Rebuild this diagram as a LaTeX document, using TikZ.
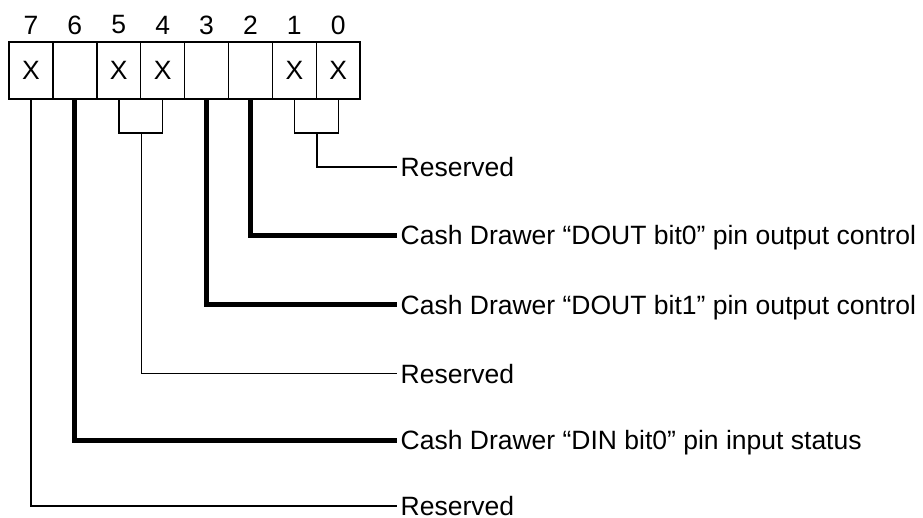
\documentclass[tikz,border=0pt]{standalone}
\usepackage{fontspec}
\setmainfont{Liberation Sans}

\begin{document}
\begin{tikzpicture}
[x=1pt,y=-1pt,%
  cellDecorate/.style={shape=rectangle,draw,line width=1.5pt,minimum width=43.9pt,minimum height=57pt,inner sep=0pt,font=\fontsize{26.5}{30}\selectfont},%
  bitDecorate/.style={inner sep=0pt,font=\fontsize{26.5}{30}\selectfont},%
  labelDecorate/.style={anchor=west,inner xsep=3.5pt,inner ysep=0pt,text height=19pt,text depth=0pt,font=\fontsize{26.5}{30}\selectfont},%
  thinLine/.style={line width=1.5pt},%
  thickLine/.style={line width=5pt}]
\useasboundingbox (0,0) rectangle (923,518);
%% register cells and bit numbers
\foreach \bit/\val in {7/X, 6/, 5/X, 4/X, 3/, 2/, 1/X, 0/X}
{
  \node (c\bit) at ({30.95+43.9*(7-\bit)},70.5) [cellDecorate] {\val};
  \node (n\bit) at ({30.95+43.9*(7-\bit)},25) [bitDecorate] {\bit};
}
%% descriptions
\foreach \labname/\y/\txt in {
  r0/167/{Reserved},
  r2/235.5/{Cash Drawer “DOUT bit0” pin output control},
  r3/305/{Cash Drawer “DOUT bit1” pin output control},
  r4/373.5/{Reserved},
  r6/440/{Cash Drawer “DIN bit0” pin input status},
  r7/506/{Reserved}}
{
  \node (\labname) at (397,\y) [labelDecorate] {\txt};
}
%% joints of the paired bits
\coordinate (b54) at (c5.east |- 0,133);
\coordinate (b10) at (c1.east |- 0,133);
%% lines
\draw[thinLine] (c1.south) |- (b10) -| (c0.south);
\draw[thinLine] (b10) |- (r0.west);
\draw[thickLine] (c2.south) |- (r2.west);
\draw[thickLine] (c3.south) |- (r3.west);
\draw[thinLine] (c5.south) |- (b54) -| (c4.south);
\draw[thinLine] (b54) |- (r4.west);
\draw[thickLine] (c6.south) |- (r6.west);
\draw[thinLine] (c7.south) |- (r7.west);
\end{tikzpicture}
\end{document}
